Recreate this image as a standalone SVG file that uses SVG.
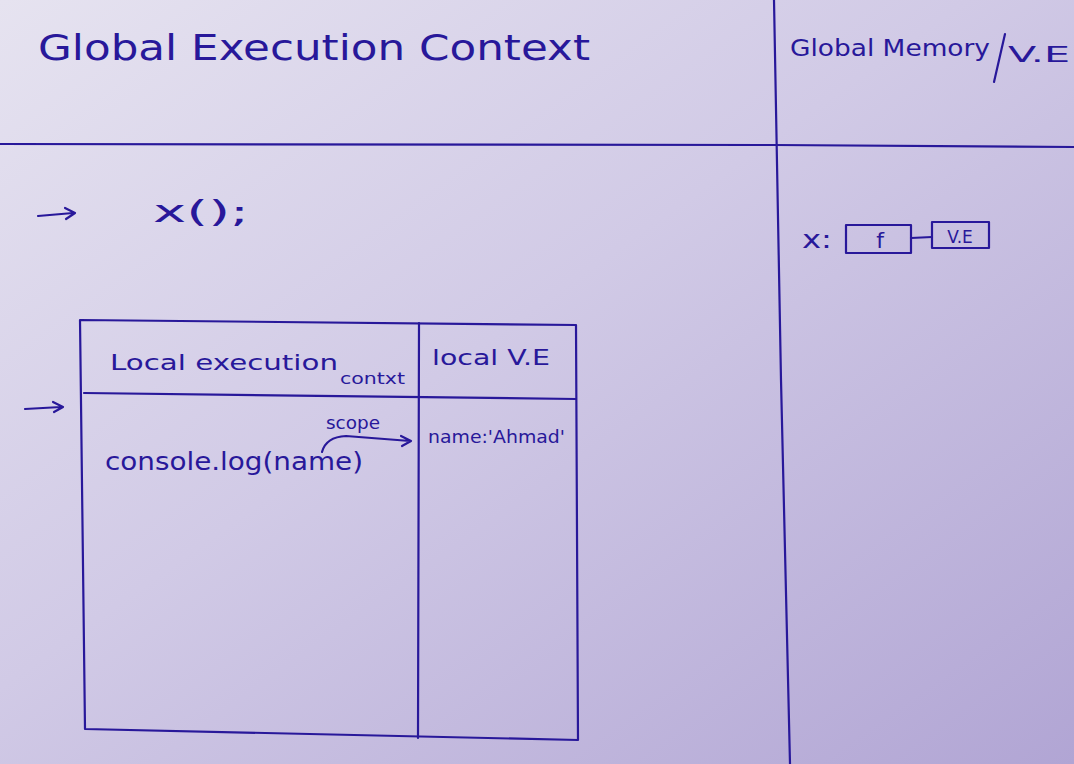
<svg xmlns="http://www.w3.org/2000/svg" width="1074" height="764" viewBox="0 0 1074 764">
  <defs>
    <linearGradient id="paper" x1="0" y1="0" x2="1" y2="1">
      <stop offset="0" stop-color="#e6e3f0"/>
      <stop offset="0.45" stop-color="#d1cae6"/>
      <stop offset="1" stop-color="#b1a5d4"/>
    </linearGradient>
    <style>
      .ink { fill: none; stroke: #28189a; stroke-width: 2.2; stroke-linecap: round; stroke-linejoin: round; }
      .hand { fill: #28189a; font-family: "DejaVu Sans", "Liberation Sans", sans-serif; font-weight: normal; }
    </style>
  </defs>

  <!-- sheet -->
  <rect width="1074" height="764" fill="url(#paper)"/>

  <!-- page rulings -->
  <g id="page-frame">
    <path class="ink" d="M0 144 L775 145 L1074 147"/>
    <path class="ink" d="M774 0 L781 380 L790 764"/>
  </g>

  <!-- headings -->
  <g id="global-execution-context">
    <text class="hand" x="38" y="60" font-size="36" textLength="552" lengthAdjust="spacingAndGlyphs">Global  Execution  Context</text>
  </g>
  <g id="global-memory">
    <text class="hand" x="790" y="56" font-size="23" textLength="200" lengthAdjust="spacingAndGlyphs">Global Memory</text>
    <path class="ink" d="M1005 34 L994 82"/>
    <text class="hand" x="1008" y="62" font-size="22" textLength="62" lengthAdjust="spacingAndGlyphs">V.E</text>
  </g>

  <!-- call statement -->
  <g id="call-x">
    <text class="hand" x="153" y="222" font-size="30" textLength="96" lengthAdjust="spacingAndGlyphs">x();</text>
  </g>

  <!-- memory entry x -->
  <g id="memory-x">
    <text class="hand" x="802" y="248" font-size="24" textLength="30" lengthAdjust="spacingAndGlyphs">x:</text>
    <rect class="ink" x="846" y="225" width="65" height="28"/>
    <text class="hand" x="880" y="248" font-size="22" text-anchor="middle">f</text>
    <rect class="ink" x="932" y="222" width="57" height="26"/>
    <text class="hand" x="960" y="243" font-size="17" text-anchor="middle">V.E</text>
  </g>

  <!-- local execution context table -->
  <g id="local-execution-context">
    <path class="ink" d="M80 320 L576 325 L578 740 L85 729 Z"/>
    <path class="ink" d="M84 393 L576 399"/>
    <path class="ink" d="M419 323 L418 738"/>
    <text class="hand" x="110" y="370" font-size="22" textLength="228" lengthAdjust="spacingAndGlyphs">Local execution</text>
    <text class="hand" x="340" y="384" font-size="16" textLength="65" lengthAdjust="spacingAndGlyphs">contxt</text>
    <text class="hand" x="432" y="365" font-size="22" textLength="118" lengthAdjust="spacingAndGlyphs">local V.E</text>
    <text class="hand" x="105" y="470" font-size="24" textLength="258" lengthAdjust="spacingAndGlyphs">console.log(name)</text>
    <text class="hand" x="326" y="429" font-size="17" textLength="54" lengthAdjust="spacingAndGlyphs">scope</text>
    <text class="hand" x="428" y="443" font-size="18" textLength="137" lengthAdjust="spacingAndGlyphs">name:'Ahmad'</text>
  </g>

  <!-- arrows and links -->
  <g id="connectors">
    <path class="ink" d="M38 216 L73 213 M65 208 L75 213 L66 219"/>
    <path class="ink" d="M25 409 L61 407 M53 402 L63 407 L54 412"/>
    <path class="ink" d="M322 452 Q326 437 346 436 L410 441 M401 436 L411 441 L402 446"/>
    <path class="ink" d="M911 238 L932 237"/>
  </g>
</svg>
